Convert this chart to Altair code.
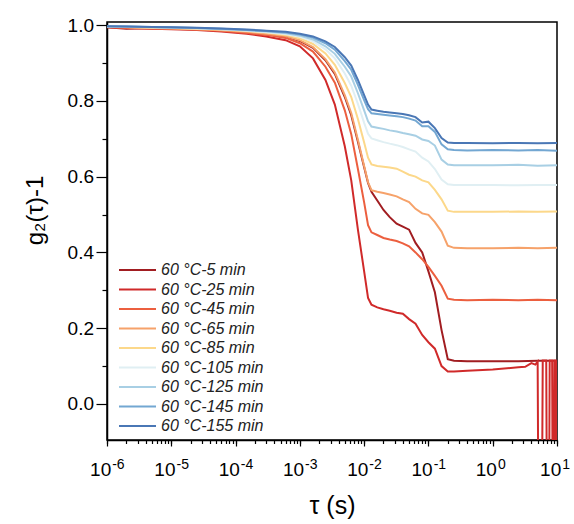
import altair as alt
import pandas as pd

# Delay times (s) shared by all correlation curves
tau = [1e-6, 2e-6, 5e-6, 1e-5, 2.5e-5, 6e-5, 1.5e-4, 3e-4, 6e-4, 1e-3,
       1.6e-3, 2.5e-3, 3.5e-3, 5e-3, 6.3e-3, 8e-3, 1e-2, 1.15e-2, 1.3e-2,
       1.6e-2, 2e-2, 2.5e-2, 3.2e-2, 4e-2, 5e-2, 6.3e-2, 8e-2, 0.1, 0.126,
       0.16, 0.2, 0.25, 0.4, 1.0, 2.5, 5.0, 10.0]

labels = ["60 °C-5 min", "60 °C-25 min", "60 °C-45 min", "60 °C-65 min",
          "60 °C-85 min", "60 °C-105 min", "60 °C-125 min", "60 °C-145 min",
          "60 °C-155 min"]

colors = ["#a11d21", "#d02a2a", "#ec5f3f", "#f6a26a", "#fcd88a",
          "#e0eff3", "#a8cfe4", "#73a7d2", "#4a77b5"]

g_5 = [0.994, 0.990, 0.992, 0.991, 0.989, 0.986, 0.981, 0.976,
       0.970, 0.958, 0.940, 0.907, 0.871, 0.810, 0.762, 0.692, 0.625, 0.583, 0.560,
       0.537, 0.512, 0.493, 0.476, 0.468, 0.460, 0.425, 0.400, 0.350, 0.295, 0.195,
       0.118, 0.114, 0.113,
       0.113, 0.113, 0.114, 0.114]
# 25 min curve runs to 2.5 s on the shared grid, the noisy tail follows
g_25 = [0.994, 0.992, 0.990, 0.989, 0.987, 0.983, 0.977, 0.970,
        0.960, 0.944, 0.912, 0.855, 0.790, 0.680, 0.590, 0.460, 0.350, 0.280, 0.262,
        0.255, 0.250, 0.246, 0.241, 0.238, 0.224, 0.212, 0.182, 0.163, 0.146, 0.100,
        0.086, 0.086, 0.088,
        0.091, 0.097]
tail_tau_25 = [3.2, 4.0, 4.6, 5.0, 5.08, 5.9, 6.0, 6.8, 6.9, 7.6, 7.7, 8.4,
               8.5, 9.0, 9.1, 9.5, 9.6, 9.9, 10.0]
tail_g_25 = [0.098, 0.108, 0.104, 0.112, -0.12, -0.12, 0.115, 0.115, -0.12,
             -0.12, 0.115, 0.115, -0.12, -0.12, 0.115, 0.115, -0.12, -0.12, 0.115]
g_45 = [0.995, 0.993, 0.991, 0.990, 0.988, 0.985, 0.979, 0.974,
        0.966, 0.952, 0.930, 0.890, 0.848, 0.775, 0.712, 0.620, 0.532, 0.472, 0.453,
        0.446, 0.438, 0.434, 0.430, 0.424, 0.416, 0.400, 0.382, 0.362, 0.338, 0.312,
        0.278, 0.275, 0.274,
        0.275, 0.274, 0.275, 0.274]
g_65 = [0.995, 0.994, 0.992, 0.991, 0.989, 0.986, 0.982, 0.977,
        0.971, 0.960, 0.942, 0.910, 0.875, 0.815, 0.768, 0.697, 0.628, 0.585, 0.564,
        0.560, 0.557, 0.553, 0.548, 0.540, 0.533, 0.515, 0.503, 0.499, 0.480, 0.455,
        0.418, 0.412, 0.411,
        0.411, 0.412, 0.411, 0.412]
g_85 = [0.996, 0.995, 0.993, 0.992, 0.990, 0.988, 0.984, 0.980,
        0.974, 0.965, 0.950, 0.925, 0.895, 0.847, 0.810, 0.752, 0.690, 0.650, 0.632,
        0.628, 0.626, 0.624, 0.621, 0.613, 0.605, 0.600, 0.590, 0.585, 0.565, 0.540,
        0.510, 0.507, 0.507,
        0.507, 0.508, 0.507, 0.508]
g_105 = [0.996, 0.995, 0.994, 0.993, 0.991, 0.989, 0.985, 0.981,
         0.976, 0.969, 0.957, 0.936, 0.912, 0.872, 0.840, 0.792, 0.742, 0.713, 0.701,
         0.696, 0.691, 0.687, 0.683, 0.678, 0.672, 0.666, 0.650, 0.640, 0.620, 0.592,
         0.580, 0.578, 0.578,
         0.578, 0.577, 0.578, 0.578]
g_125 = [0.996, 0.996, 0.994, 0.993, 0.992, 0.989, 0.986, 0.983,
         0.978, 0.972, 0.962, 0.944, 0.924, 0.890, 0.864, 0.820, 0.775, 0.746, 0.732,
         0.729, 0.726, 0.722, 0.719, 0.715, 0.712, 0.708, 0.698, 0.694, 0.682, 0.645,
         0.632, 0.630, 0.630,
         0.630, 0.631, 0.629, 0.630]
g_145 = [0.997, 0.996, 0.995, 0.994, 0.992, 0.990, 0.987, 0.984,
         0.980, 0.975, 0.967, 0.952, 0.935, 0.905, 0.882, 0.842, 0.802, 0.778, 0.767,
         0.765, 0.763, 0.761, 0.759, 0.757, 0.753, 0.748, 0.733, 0.733, 0.718, 0.685,
         0.672, 0.670, 0.669,
         0.670, 0.669, 0.670, 0.668]
g_155 = [0.997, 0.996, 0.995, 0.994, 0.993, 0.991, 0.988, 0.985,
         0.982, 0.977, 0.970, 0.957, 0.942, 0.915, 0.893, 0.855, 0.815, 0.790, 0.777,
         0.774, 0.771, 0.769, 0.767, 0.765, 0.762, 0.757, 0.743, 0.745, 0.728, 0.702,
         0.690, 0.689, 0.689,
         0.688, 0.689, 0.688, 0.689]

curves = [g_5, g_25, g_45, g_65, g_85, g_105, g_125, g_145, g_155]

rows = []
for name, vals in zip(labels, curves):
    pts = list(zip(tau, vals))
    if vals is g_25:
        pts += list(zip(tail_tau_25, tail_g_25))
    for i, (t, v) in enumerate(pts):
        rows.append({"series": name, "tau": t, "g": v, "order": i})
df = pd.DataFrame(rows)

major_x = [1e-6, 1e-5, 1e-4, 1e-3, 1e-2, 1e-1, 1.0, 10.0]
minor_x = [k * d for d in [1e-6, 1e-5, 1e-4, 1e-3, 1e-2, 1e-1, 1.0]
           for k in range(2, 10)]
major_y = [0.0, 0.2, 0.4, 0.6, 0.8, 1.0]
minor_y = [0.1, 0.3, 0.5, 0.7, 0.9]

x_scale = alt.Scale(type="log", domain=[1e-6, 10], nice=False)
y_scale = alt.Scale(domain=[-0.095, 1.008], nice=False, zero=False)

# exponent text for decade ticks, empty for the minor ticks
decade = "round(log(datum.value)/LN10)"
exp_expr = ("abs(log(datum.value)/LN10 - " + decade + ") < 1e-6 ? "
            "['-6','-5','-4','-3','-2','-1','0','1'][" + decade + "+6] : ''")

lines = alt.Chart(df).mark_line(strokeWidth=2, clip=True).encode(
    x=alt.X("tau:Q", scale=x_scale,
            axis=alt.Axis(values=major_x, labelExpr="'10'", orient="bottom",
                          tickSize=6, labelFontSize=19, labelPadding=29,
                          labelBaseline="alphabetic", labelAlign="right",
                          labelOffset=3.7, labelFlush=False, labelOverlap=False,
                          title="τ (s)", titleFontSize=25,
                          titleFontWeight="normal", titleX=225, titleY=73,
                          titleBaseline="alphabetic")),
    y=alt.Y("g:Q", scale=y_scale,
            axis=alt.Axis(values=major_y, format=".1f", tickSize=11,
                          orient="left",
                          labelFontSize=19, labelPadding=2.5, labelFlush=False,
                          title="g\u2082(τ)-1", titleFontSize=24,
                          titleFontWeight="normal", titleAngle=270,
                          titleX=-65, titleY=188, titleAlign="center",
                          titleBaseline="alphabetic")),
    color=alt.Color("series:N", sort=labels,
                    scale=alt.Scale(domain=labels, range=colors),
                    legend=alt.Legend(title=None, orient="none",
                                      legendX=4, legendY=240,
                                      symbolType="M0,0H7.4", symbolSize=100,
                                      symbolStrokeWidth=2, labelOffset=34,
                                      labelFontSize=16, labelFontStyle="italic",
                                      labelColor="#222222", rowPadding=3.5,
                                      padding=0)),
    order="order:Q",
)

# Minor tick marks on both axes, plus the decade exponents
minor = alt.Chart(df).mark_point(opacity=0).encode(
    x=alt.X("tau:Q", scale=x_scale,
            axis=alt.Axis(values=major_x + minor_x, labelExpr=exp_expr,
                          orient="bottom", tickSize=3.5, labelFontSize=14,
                          labelPadding=25, labelBaseline="alphabetic",
                          labelAlign="left", labelOffset=4.7, labelFlush=False,
                          labelOverlap=False, labelBound=False,
                          domain=False, grid=False, title=None)),
    y=alt.Y("g:Q", scale=y_scale,
            axis=alt.Axis(values=minor_y, labels=False, tickSize=5,
                          orient="left",
                          domain=False, grid=False, title=None)),
)

chart = alt.layer(lines, minor).resolve_axis(
    x="independent", y="independent"
).properties(
    width=450, height=418,
    autosize=alt.AutoSizeParams(type="none"),
    padding={"left": 107, "top": 22, "right": 17, "bottom": 84},
).configure(
    font="Liberation Sans",
).configure_view(
    stroke="black", strokeWidth=1.5,
).configure_axis(
    grid=False, domainColor="black", domainWidth=1.5, tickColor="black",
    tickWidth=1.2, labelColor="black", titleColor="black",
)

chart.save("out.html", embed_options={"renderer": "svg", "actions": False})
